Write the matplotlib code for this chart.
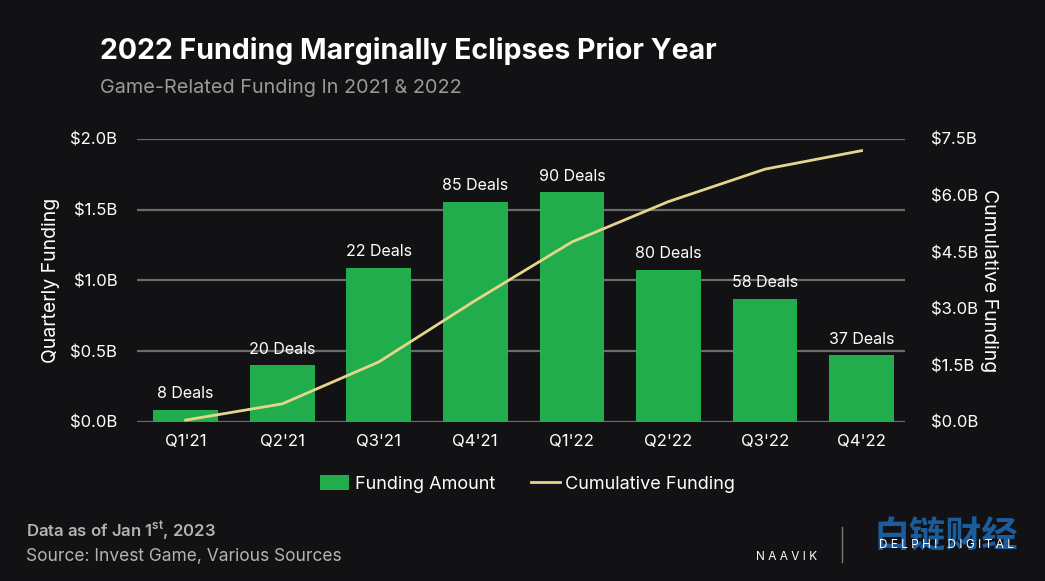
import matplotlib
matplotlib.use("Agg")
import matplotlib.pyplot as plt
import numpy as np

plt.rcParams['font.family'] = ['Inter', 'DejaVu Sans']

quarters = ["Q1'21", "Q2'21", "Q3'21", "Q4'21", "Q1'22", "Q2'22", "Q3'22", "Q4'22"]
funding = [0.085, 0.40, 1.09, 1.555, 1.625, 1.075, 0.87, 0.47]        # $B per quarter
cumulative = [0.05, 0.48, 1.59, 3.22, 4.77, 5.84, 6.70, 7.19]        # $B cumulative
deals = [8, 20, 22, 85, 90, 80, 58, 37]

left_ticks = [0.0, 0.5, 1.0, 1.5, 2.0]
right_ticks = [0.0, 1.5, 3.0, 4.5, 6.0, 7.5]

bg = '#121214'
green = '#22ad4c'
yellow = '#e6d68c'
grid = '#6b6b6b'

fig = plt.figure(figsize=(10.45, 5.81), dpi=100, facecolor=bg)
ax = fig.add_axes([0.131, 0.2737, 0.735, 0.4871])
ax.set_facecolor(bg)
ax2 = ax.twinx()

x = np.arange(len(quarters))
bars = ax.bar(x, funding, width=0.67, color=green, zorder=2, label='Funding Amount')
for xi, v, d in zip(x, funding, deals):
    ax.text(xi, v + 0.06, f"{d} Deals", ha='center', va='bottom',
            color='white', fontsize=11.5)

line, = ax2.plot(x, cumulative, color=yellow, lw=2, zorder=3, label='Cumulative Funding')

ax.set_xlim(-0.505, 7.45)
ax.set_ylim(0, 2.0)
ax2.set_ylim(0, 7.5)
ax.set_yticks(left_ticks)
ax.set_yticklabels([f"${t:.1f}B" for t in left_ticks])
ax2.set_yticks(right_ticks)
ax2.set_yticklabels([f"${t:.1f}B" for t in right_ticks])
ax.set_xticks(x)
ax.set_xticklabels(quarters)

ax.grid(axis='y', color=grid, lw=1.6, zorder=0)
ax.set_axisbelow(True)
for a in (ax, ax2):
    for s in a.spines.values():
        s.set_visible(False)
    a.tick_params(length=0, colors='white', labelsize=12)
ax.tick_params(axis='y', pad=14)
ax2.tick_params(axis='y', pad=19)
ax.tick_params(axis='x', pad=9)
ax2.patch.set_visible(False)

ax.set_ylabel("Quarterly Funding", color='white', fontsize=14, labelpad=7)
ax2.set_ylabel("Cumulative Funding", color='white', fontsize=14, rotation=270, labelpad=14)

fig.legend(handles=[bars, line], loc='center', bbox_to_anchor=(0.505, 0.167), ncol=2,
           frameon=False, fontsize=13, labelcolor='white', handlelength=1.6,
           handletextpad=0.3, columnspacing=2.0, handleheight=0.9)

fig.text(0.096, 0.912, "2022 Funding Marginally Eclipses Prior Year", color='white',
         fontsize=20.5, fontweight='bold', va='center', ha='left')
fig.text(0.096, 0.848, "Game-Related Funding In 2021 & 2022", color='#9a9a9a',
         fontsize=14.3, va='center', ha='left')

fig.text(0.025, 0.086, "Data as of Jan 1$^{\\mathregular{st}}$, 2023", color='#b4b4b4',
         fontsize=12, fontweight='semibold', va='center')
fig.text(0.025, 0.043, "Source: Invest Game, Various Sources", color='#b4b4b4',
         fontsize=12.5, va='center')

# logos + watermark (the watermark sits over the Delphi logo in the original too)
fig.text(0.753, 0.041, "N A A V I K", color='white', fontsize=8.5, va='center', ha='center')
fig.add_artist(plt.Line2D([0.806, 0.806], [0.033, 0.093], color='#777777', lw=1))
fig.text(0.905, 0.076, "白链财经", color='#1e6fc0', fontsize=26, fontweight='bold',
         va='center', ha='center', family=['Noto Sans CJK SC', 'DejaVu Sans'],
         alpha=0.8, zorder=5)
fig.text(0.906, 0.062, "D E L P H I   D I G I T A L", color='white', fontsize=8.5,
         va='center', ha='center', zorder=6)

fig.savefig("out.png", dpi=100, facecolor=bg)
